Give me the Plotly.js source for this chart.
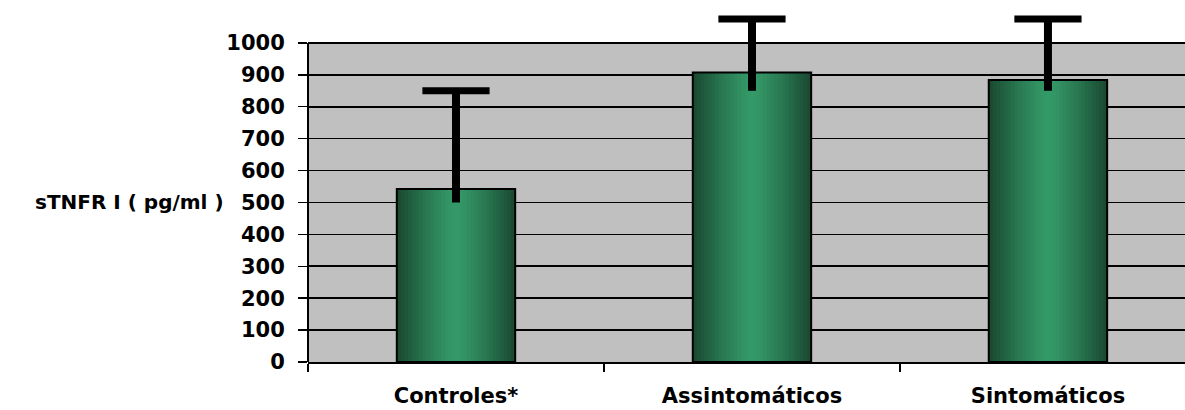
<!DOCTYPE html>
<html>
<head>
<meta charset="utf-8">
<script src="https://cdn.plot.ly/plotly-3.0.1.min.js"></script>
<style>
  html, body { margin: 0; padding: 0; background: #ffffff; }
  #chart { width: 1185px; height: 410px; }
</style>
</head>
<body>
<div id="chart"></div>
<script>
// ---- data ----
const categories = ['Controles*', 'Assintomáticos', 'Sintomáticos'];
const means = [542, 907, 884];
const errUpper = [850, 1075, 1075];
const errLower = [500, 850, 850];
const yTickVals = [0, 100, 200, 300, 400, 500, 600, 700, 800, 900, 1000];
const yTitle = 'sTNFR I ( pg/ml )';

// ---- styling helpers ----
const FONT = 'DejaVu Sans, Liberation Sans, Arial, sans-serif';
const darkRGB = [26, 74, 50];
const brightRGB = [53, 155, 105];
const barWidth = 0.4;
const nLayers = 16;
const yMax = yTickVals[yTickVals.length - 1];

function mix(a, b, t) {
  return 'rgb(' + a.map((v, i) => Math.round(v + (b[i] - v) * t)).join(',') + ')';
}

const traces = [];
// gradient simulated with nested overlay bars (outer = dark, inner = bright)
for (let i = 0; i < nLayers; i++) {
  const frac = 1 - i / nLayers;
  const t = Math.pow(frac, 1.3);
  traces.push({
    type: 'bar',
    x: categories,
    y: means,
    width: barWidth * frac,
    marker: { color: mix(brightRGB, darkRGB, t), line: { width: 0 } },
    hoverinfo: 'skip',
    showlegend: false
  });
}
// outline
traces.push({
  type: 'bar',
  x: categories,
  y: means,
  width: barWidth,
  marker: { color: 'rgba(0,0,0,0)', line: { color: '#000000', width: 2 } },
  hoverinfo: 'skip',
  showlegend: false
});

// error bar stems
const ex = [], ey = [];
categories.forEach((c, i) => {
  ex.push(c, c, null);
  ey.push(errLower[i], errUpper[i], null);
});
traces.push({
  type: 'scatter',
  mode: 'lines',
  x: ex,
  y: ey,
  line: { color: '#000000', width: 8 },
  connectgaps: false,
  cliponaxis: false,
  hoverinfo: 'skip',
  showlegend: false
});
// error bar caps
traces.push({
  type: 'scatter',
  mode: 'markers',
  x: categories,
  y: errUpper,
  marker: { symbol: 'line-ew', size: 48, color: '#000000', line: { color: '#000000', width: 7 } },
  cliponaxis: false,
  hoverinfo: 'skip',
  showlegend: false
});

const layout = {
  width: 1185,
  height: 410,
  margin: { l: 308, r: 0, t: 11, b: 48, pad: 0 },
  paper_bgcolor: '#ffffff',
  plot_bgcolor: '#c0c0c0',
  barmode: 'overlay',
  showlegend: false,
  font: { family: FONT, size: 20, color: '#000000', weight: 'bold' },
  xaxis: {
    type: 'category',
    range: [-0.5, 2.463],
    showgrid: false,
    zeroline: false,
    showline: true,
    linecolor: '#000000',
    linewidth: 2,
    ticks: 'outside',
    tickson: 'boundaries',
    ticklen: 8,
    tickwidth: 1.5,
    tickcolor: '#000000',
    ticklabelstandoff: 14,
    tickfont: { family: FONT, size: 21, color: '#000000', weight: 'bold' },
    fixedrange: true
  },
  yaxis: {
    range: [0, 1100],
    tickmode: 'array',
    tickvals: yTickVals,
    ticktext: yTickVals.map(String),
    showgrid: true,
    gridcolor: '#000000',
    gridwidth: 1.6,
    zeroline: false,
    showline: false,
    ticks: 'outside',
    ticklen: 9,
    tickwidth: 1.5,
    tickcolor: '#000000',
    ticklabelstandoff: 9,
    tickfont: { family: FONT, size: 21, color: '#000000', weight: 'bold' },
    fixedrange: true
  },
  shapes: [
    { // white area above the value range
      type: 'rect', layer: 'between',
      xref: 'paper', x0: -0.01, x1: 1,
      yref: 'y', y0: yMax, y1: 1100,
      fillcolor: '#ffffff', line: { width: 0 }
    },
    { // top border of plot area
      type: 'line', layer: 'between',
      xref: 'paper', x0: 0, x1: 1,
      yref: 'y', y0: yMax, y1: yMax,
      line: { color: '#808080', width: 2 }
    },
    { // left value axis line
      type: 'line', layer: 'above',
      xref: 'paper', x0: 0, x1: 0,
      yref: 'y', y0: 0, y1: yMax,
      line: { color: '#000000', width: 2 }
    }
  ],
  annotations: [{
    text: yTitle,
    xref: 'paper', yref: 'y',
    x: -0.203, y: 500,
    xanchor: 'center', yanchor: 'middle',
    showarrow: false,
    font: { family: FONT, size: 20, color: '#000000', weight: 'bold' }
  }]
};

Plotly.newPlot('chart', traces, layout, { displayModeBar: false, staticPlot: true });
</script>
</body>
</html>
